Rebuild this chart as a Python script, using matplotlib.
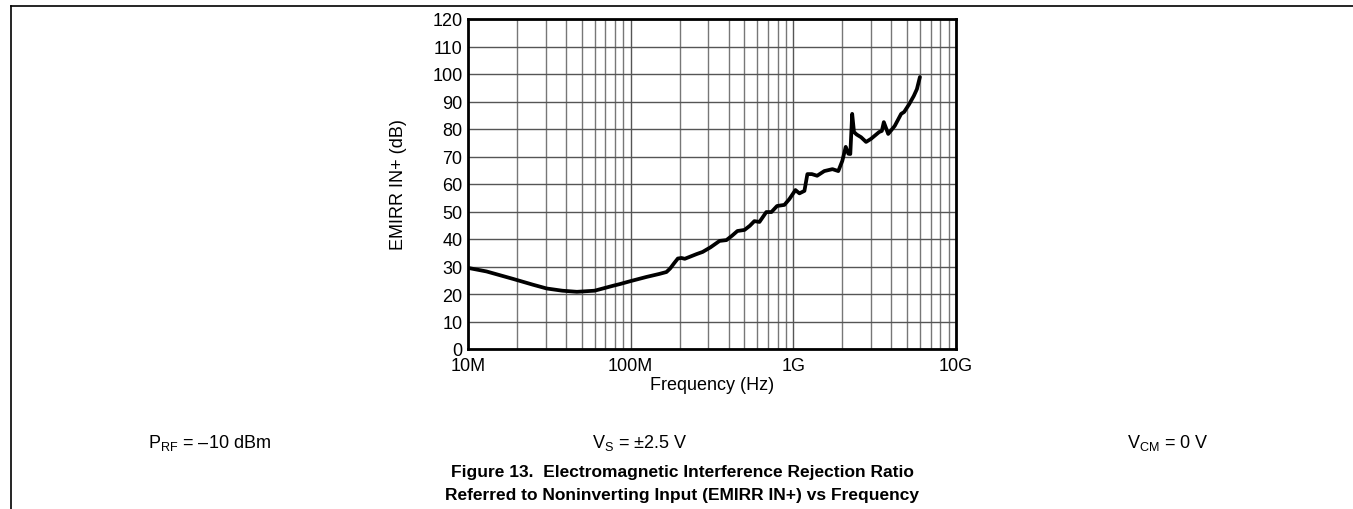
import numpy as np
import matplotlib
matplotlib.use("Agg")
import matplotlib.pyplot as plt
from matplotlib.lines import Line2D
from matplotlib.ticker import LogLocator, NullFormatter

plt.rcParams['font.family'] = ['Liberation Sans', 'DejaVu Sans']
plt.rcParams['mathtext.fontset'] = 'custom'
plt.rcParams['mathtext.rm'] = 'Liberation Sans'
plt.rcParams['mathtext.it'] = 'Liberation Sans'

# EMIRR IN+ curve (frequency in MHz, value in dB)
freq_mhz = [10, 13, 18.9, 25, 30.5, 38, 46.7, 60, 78, 85.7, 100, 125, 150,
            166, 175, 185, 195, 205, 215, 254, 277, 310, 352, 388, 420, 453,
            501, 540, 576, 619, 682, 733, 794, 881, 945, 1030, 1090, 1170,
            1220, 1300, 1400, 1550, 1740, 1890, 2000, 2100, 2180, 2240, 2300,
            2360, 2450, 2610, 2800, 3000, 3370, 3500, 3600, 3830, 4200, 4600,
            4800, 5150, 5500, 5750, 6000]
emirr_db = [29.5, 28.2, 25.5, 23.4, 22.0, 21.2, 20.8, 21.2, 23.0, 23.6, 24.7,
            26.2, 27.3, 28.0, 29.3, 31.2, 32.9, 33.1, 32.8, 34.5, 35.3, 37.0,
            39.3, 39.6, 41.2, 42.9, 43.3, 44.8, 46.5, 46.2, 49.8, 49.8, 52.0,
            52.4, 54.5, 57.8, 56.6, 57.5, 63.6, 63.6, 63.0, 64.7, 65.4, 64.7,
            68.4, 73.5, 71.0, 70.9, 85.5, 78.9, 78.0, 77.0, 75.3, 76.4, 78.9,
            79.3, 82.5, 78.2, 81.1, 85.5, 86.2, 89.0, 92.0, 94.5, 98.9]

y_ticks = list(range(0, 121, 10))
x_ticks = [1e7, 1e8, 1e9, 1e10]
x_labels = ["10M", "100M", "1G", "10G"]

W, H = 1353, 510
fig = plt.figure(figsize=(W / 100, H / 100), dpi=100)

ax = fig.add_axes([468 / W, 1 - 350 / H, (956 - 468) / W, 330 / H])
ax.plot(np.array(freq_mhz) * 1e6, emirr_db, color="black", lw=2.7,
        solid_capstyle="round", solid_joinstyle="round", zorder=3)

ax.set_xscale("log")
ax.set_xlim(1e7, 1e10)
ax.set_ylim(0, 120)
ax.set_xticks(x_ticks)
ax.set_xticklabels(x_labels)
ax.xaxis.set_minor_locator(LogLocator(base=10, subs=np.arange(2, 10)))
ax.xaxis.set_minor_formatter(NullFormatter())
ax.set_yticks(y_ticks)
ax.tick_params(axis="both", which="both", length=0, labelsize=13)
ax.tick_params(axis="x", pad=6)
ax.tick_params(axis="y", pad=4)
ax.grid(True, which="major", color="#555555", lw=1.0)
ax.grid(True, which="minor", axis="x", color="#777777", lw=1.0)
for s in ax.spines.values():
    s.set_linewidth(2.0)
    s.set_color("black")

ax.set_xlabel("Frequency (Hz)", fontsize=13, labelpad=1)
fig.text(398 / W, 1 - 185 / H, "EMIRR IN+ (dB)", rotation=90, fontsize=13,
         ha="center", va="center")

# conditions row
fig.text(148 / W, 1 - 443 / H, r"$\mathrm{P_{RF}}$ = –10 dBm", fontsize=13,
         ha="left", va="center")
fig.text(592 / W, 1 - 443 / H, r"$\mathrm{V_S}$ = ±2.5 V", fontsize=13,
         ha="left", va="center")
fig.text(1127 / W, 1 - 443 / H, r"$\mathrm{V_{CM}}$ = 0 V", fontsize=13,
         ha="left", va="center")

# caption
fig.text(682 / W, 1 - 472 / H,
         "Figure 13.  Electromagnetic Interference Rejection Ratio",
         fontsize=12.5, fontweight="bold", ha="center", va="center")
fig.text(682 / W, 1 - 496 / H,
         "Referred to Noninverting Input (EMIRR IN+) vs Frequency",
         fontsize=12.5, fontweight="bold", ha="center", va="center")

# page frame lines
fig.add_artist(Line2D([11 / W, 1], [1 - 7 / H, 1 - 7 / H], color="black",
                      lw=1.2, transform=fig.transFigure))
fig.add_artist(Line2D([11 / W, 11 / W], [1 - 7 / H, 0], color="black",
                      lw=1.2, transform=fig.transFigure))

fig.savefig("out.png", dpi=100)
